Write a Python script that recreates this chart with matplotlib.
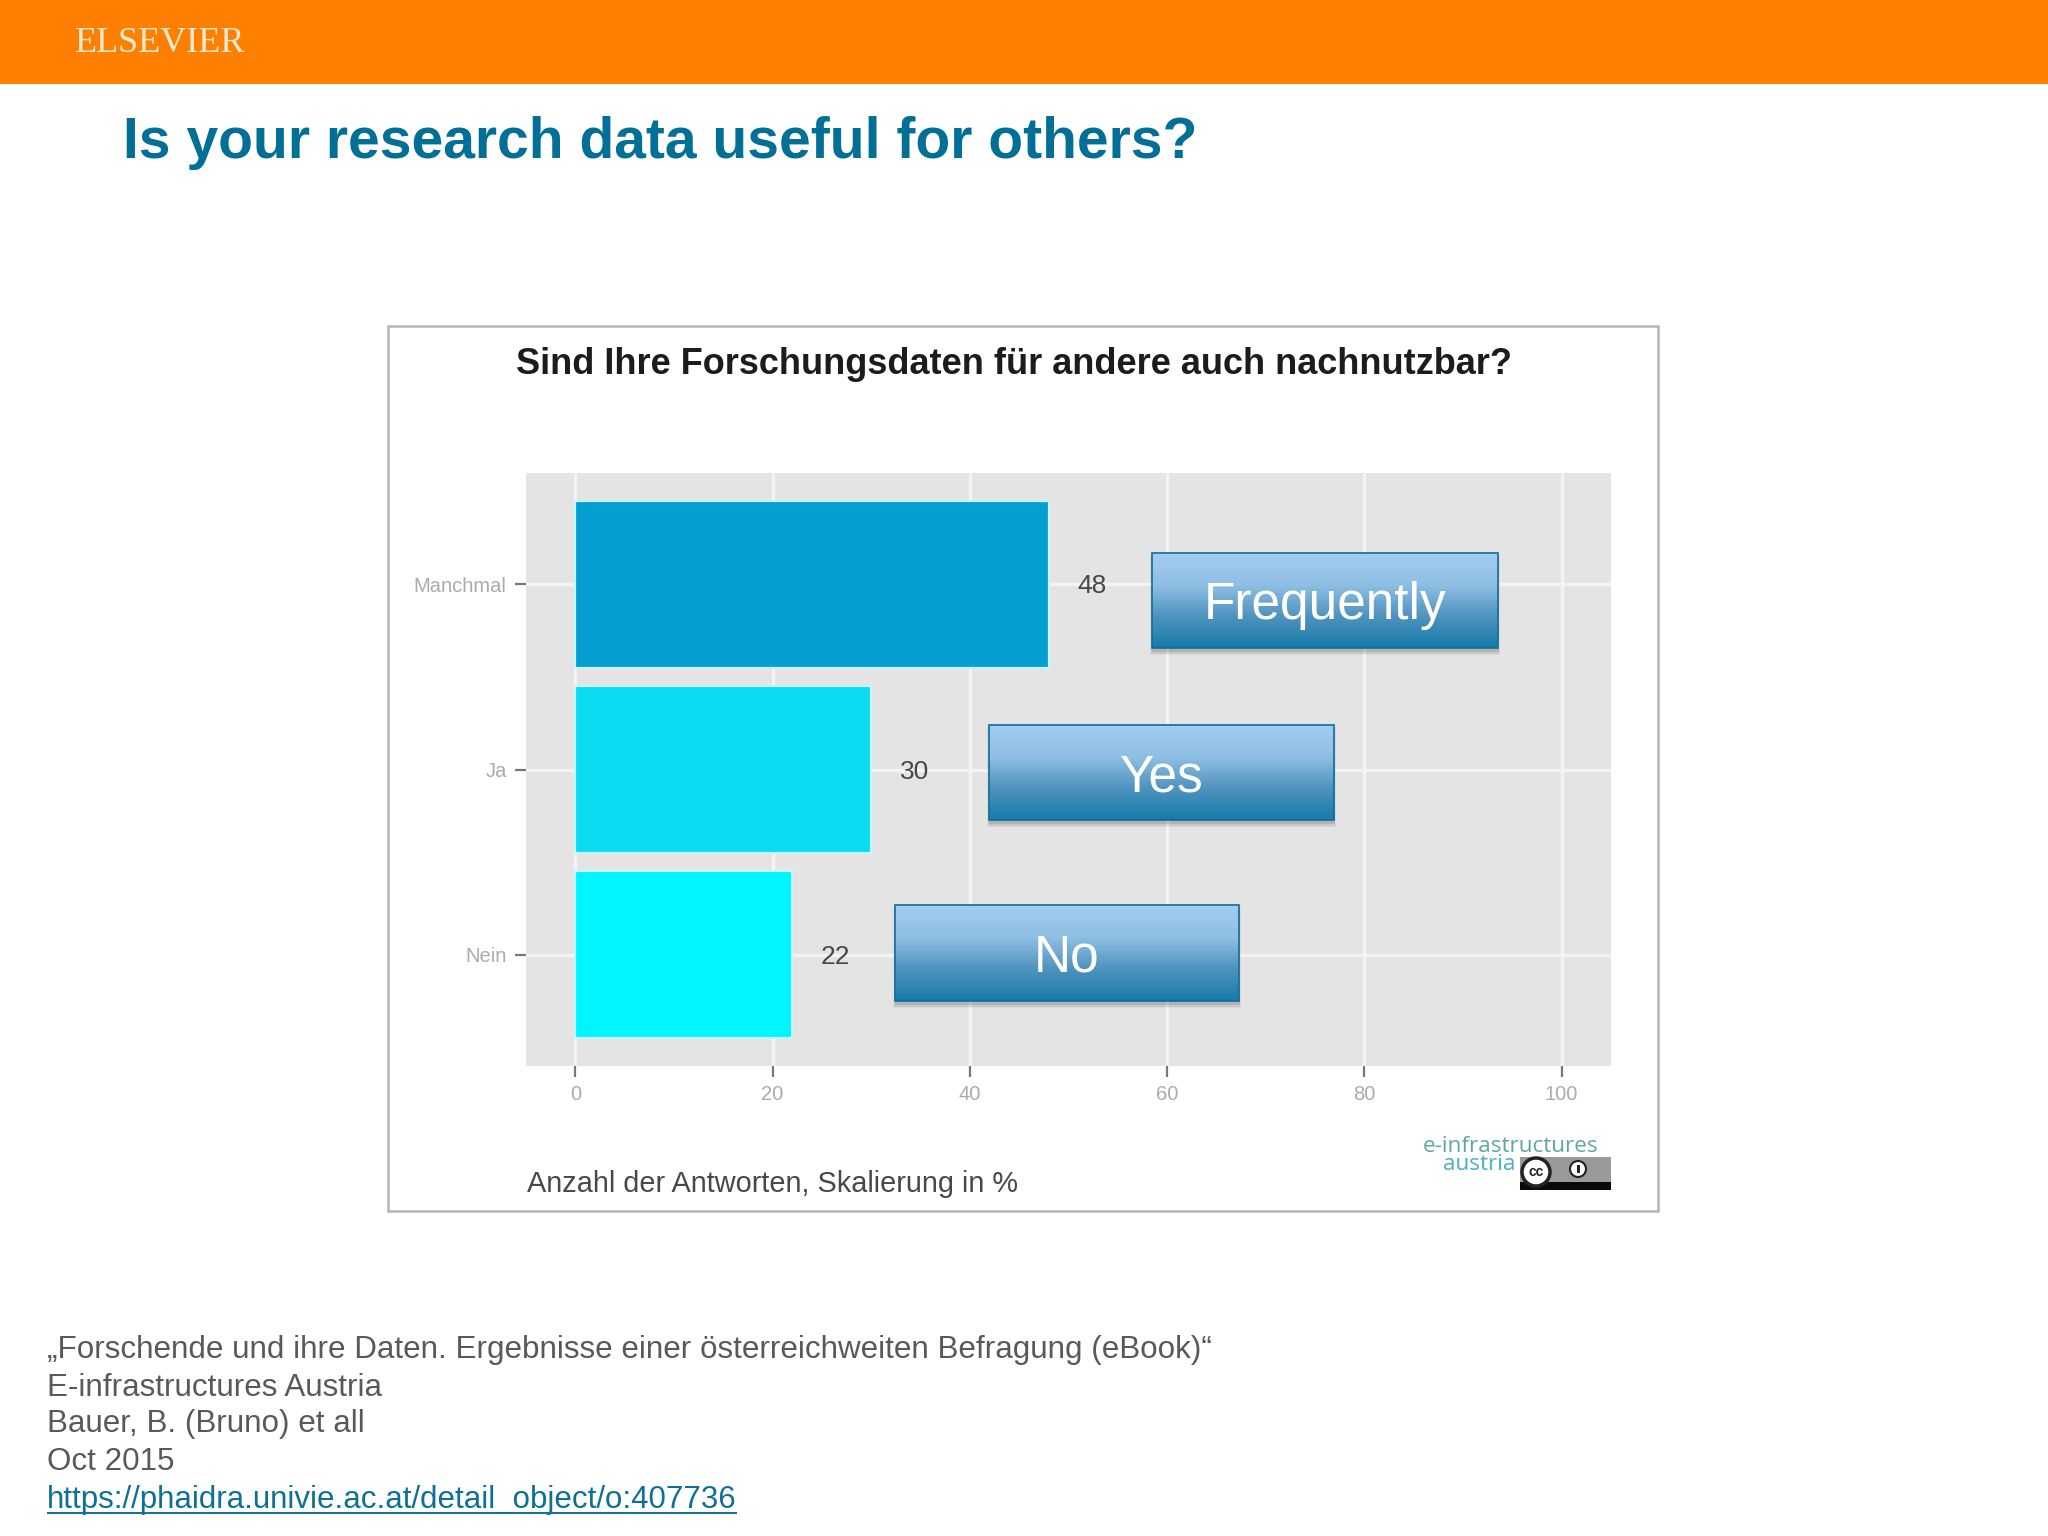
import matplotlib

matplotlib.use('Agg')
import matplotlib.pyplot as plt
import numpy as np
from matplotlib.colors import LinearSegmentedColormap
from matplotlib.patches import Circle, Rectangle

W, H = 2048, 1536

categories = ['Nein', 'Ja', 'Manchmal']
values = [22, 30, 48]
bar_colors = ['#00F5FF', '#0ADBF0', '#05A0D1']
x_ticks = [0, 20, 40, 60, 80, 100]

callout_labels = ['Frequently', 'Yes', 'No']
footer_lines = [
    '„Forschende und ihre Daten. Ergebnisse einer österreichweiten Befragung (eBook)“',
    'E-infrastructures Austria',
    'Bauer, B. (Bruno) et all',
    'Oct 2015',
]
footer_link = 'https://phaidra.univie.ac.at/detail_object/o:407736'

# left, right, top, bottom in slide pixels
callout_boxes = [(1152, 1498, 553, 648), (989, 1334, 725, 820), (895, 1239, 905, 1001)]

plt.rcParams['font.family'] = ['Liberation Sans', 'DejaVu Sans']

fig = plt.figure(figsize=(W / 100, H / 100), dpi=100, facecolor='white')

# the embedded ggplot style chart
ax = fig.add_axes([526 / W, 1 - 1066 / H, (1611 - 526) / W, (1066 - 473) / H])
ax.set_facecolor('#E4E4E4')
y_pos = np.arange(len(categories))
ax.barh(y_pos, values, height=0.9, color=bar_colors, edgecolor='#C8F4FA', linewidth=1.6, zorder=3)
ax.set_xlim(-5, 105)
ax.set_ylim(-0.6, 2.6)
ax.set_xticks(x_ticks)
ax.set_yticks(y_pos, categories)
ax.grid(True, color='#F4F4F4', linewidth=2.4, zorder=1)
ax.set_axisbelow(True)
ax.tick_params(axis='both', length=8, width=1.6, color='#777777', labelcolor='#ABABAB', labelsize=14.5, pad=6)
for side in ax.spines.values():
    side.set_visible(False)
for y, value in zip(y_pos, values):
    ax.annotate(str(value), (value + 2.9, y), xytext=(0, -1.5), textcoords='offset points', ha='left', va='center',
                fontsize=19, color='#484848', zorder=4)

# slide furniture goes on a transparent overlay in pixel coordinates
slide = fig.add_axes([0, 0, 1, 1], zorder=5)
slide.patch.set_alpha(0)
slide.axis('off')
slide.set_xlim(0, W)
slide.set_ylim(H, 0)
slide.autoscale(False)

slide.add_patch(Rectangle((0, 0), W, 84, color='#FF8000', linewidth=0))
slide.text(75, 44, 'ELSEVIER', family='Liberation Serif', fontsize=26, color='#FCEBD2', va='center', ha='left')
slide.text(123, 143, 'Is your research data useful for others?', fontsize=41, fontweight='bold',
           color='#026F96', va='center', ha='left')

slide.add_patch(Rectangle((387.5, 326), 1658 - 387.5, 1211 - 326, fill=False, edgecolor='#B4B4B4', linewidth=1.8))
slide.text(516, 365, 'Sind Ihre Forschungsdaten für andere auch nachnutzbar?', fontsize=26, fontweight='bold',
           color='#1C1C1C', va='center', ha='left')
slide.text(527, 1184, 'Anzahl der Antworten, Skalierung in %', fontsize=20.8, color='#484848', va='center', ha='left')

# callouts with vertical gradient
cmap = LinearSegmentedColormap.from_list('callout', ['#A2CDF0', '#8FBFE3', '#4F93BF', '#177BAA'])
gradient = np.linspace(0, 1, 128).reshape(-1, 1)
for label, (left, right, top, bottom) in zip(callout_labels, callout_boxes):
    for grow, alpha in ((4, 0.06), (2.5, 0.10), (1, 0.14)):
        slide.add_patch(Rectangle((left - grow / 2, top + 3), right - left + grow, bottom - top + grow,
                                  color='#333333', alpha=alpha, linewidth=0))
    slide.imshow(gradient, extent=(left, right, bottom, top), cmap=cmap, aspect='auto', zorder=2)
    slide.add_patch(Rectangle((left, top), right - left, bottom - top, fill=False, edgecolor='#0D6F98',
                              linewidth=1.2, zorder=3))
    slide.text((left + right) / 2, (top + bottom) / 2 + 5, label, fontsize=37, color='white', ha='center',
               va='center', zorder=4)

# logo and cc badge
slide.text(1598, 1146, 'e-infrastructures', family='Open Sans', fontsize=16.2, color='#5FA8A0', ha='right', va='center')
slide.text(1515, 1164, 'austria', family='Open Sans', fontsize=16.2, color='#48B0BE', ha='right', va='center')
slide.add_patch(Rectangle((1520, 1157), 91, 33, color='#9A9A9A', linewidth=0, zorder=2))
slide.add_patch(Rectangle((1520, 1182), 91, 8, color='#0A0A0A', linewidth=0, zorder=3))
slide.add_patch(Circle((1536, 1172), 14, facecolor='white', edgecolor='#222222', linewidth=2.5, zorder=4))
slide.text(1536, 1172, 'cc', fontsize=10, fontweight='bold', color='#222222', ha='center', va='center', zorder=5)
slide.add_patch(Circle((1578, 1169), 8, facecolor='white', edgecolor='#222222', linewidth=1.5, zorder=4))
slide.add_patch(Rectangle((1576.5, 1165), 3, 8, color='#222222', linewidth=0, zorder=5))

# source block
for y, line in zip((1350, 1388, 1424, 1462), footer_lines):
    slide.text(47, y, line, fontsize=22.55, color='#595959', va='center', ha='left')
link = slide.text(47, 1500, footer_link, fontsize=22.5, color='#0E7095', va='center', ha='left')
fig.canvas.draw()
box = link.get_window_extent()
slide.plot([box.x0, box.x1], [1513, 1513], color='#0E7095', linewidth=1.4, solid_capstyle='butt')

fig.savefig('out.png', dpi=100, facecolor='white')
plt.close(fig)
